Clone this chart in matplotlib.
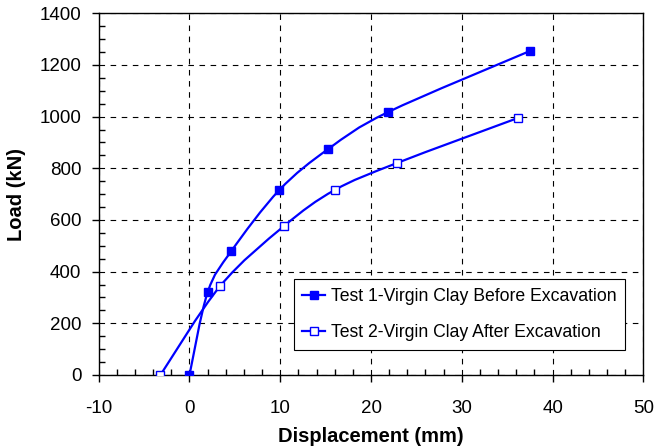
import matplotlib
matplotlib.use("Agg")
import matplotlib.pyplot as plt
from matplotlib.path import Path
from matplotlib.patches import PathPatch
from matplotlib.ticker import MultipleLocator
import numpy as np

plt.rcParams['font.family'] = ['Liberation Sans', 'DejaVu Sans']
plt.rcParams['axes.unicode_minus'] = False  # plain hyphen on -10

# data
test1_disp = [0.0, 2.0, 4.6, 9.9, 15.3, 21.9, 37.5]
test1_load = [0, 320, 479, 716, 875, 1018, 1254]
test2_disp = [-3.2, 3.4, 10.4, 16.0, 22.9, 36.2]
test2_load = [0, 345, 576, 716, 821, 995]
labels = ["Test 1-Virgin Clay Before Excavation", "Test 2-Virgin Clay After Excavation"]

blue = "#0000ff"


def smooth_path(xs, ys):
    """Excel-style smoothed line as cubic bezier segments through the points"""
    pts = np.column_stack([xs, ys]).astype(float)
    n = len(pts)
    verts = [pts[0]]
    codes = [Path.MOVETO]
    for i in range(n - 1):
        p0 = pts[i - 1] if i > 0 else pts[i]
        p1 = pts[i]
        p2 = pts[i + 1]
        p3 = pts[i + 2] if i + 2 < n else pts[i + 1]
        c1 = p1 + (p2 - p0) / 6.0
        c2 = p2 - (p3 - p1) / 6.0
        verts += [c1, c2, p2]
        codes += [Path.CURVE4] * 3
    return Path(verts, codes)


fig = plt.figure(figsize=(6.56, 4.48), dpi=100)
ax = fig.add_axes([0.1505, 0.163, 0.8302, 0.8073])

for xs, ys in [(test1_disp, test1_load), (test2_disp, test2_load)]:
    ax.add_patch(PathPatch(smooth_path(xs, ys), facecolor="none", edgecolor=blue, lw=1.6, zorder=3))

ax.plot(test1_disp, test1_load, ls="none", marker="s", ms=6, color=blue, zorder=4)
ax.plot(test2_disp, test2_load, ls="none", marker="s", ms=5.5, mfc="white", mec=blue, mew=1.0, zorder=4)

# legend handles with line + marker
h1, = ax.plot([], [], color=blue, lw=1.6, marker="s", ms=6)
h2, = ax.plot([], [], color=blue, lw=1.6, marker="s", ms=5.5, mfc="white", mec=blue, mew=1.0)
leg = ax.legend([h1, h2], labels, loc="lower right", bbox_to_anchor=(0.9664, 0.069),
                fontsize=12.7, frameon=True, fancybox=False, framealpha=1, edgecolor="black",
                handlelength=1.3, handletextpad=0.3, labelspacing=1.1, borderpad=0.5, borderaxespad=0)
leg.get_frame().set_linewidth(0.8)
leg.set_zorder(5)

ax.set_xlim(-10, 50)
ax.set_ylim(0, 1400)
ax.xaxis.set_major_locator(MultipleLocator(10))
ax.xaxis.set_minor_locator(MultipleLocator(2))
ax.yaxis.set_major_locator(MultipleLocator(200))
ax.yaxis.set_minor_locator(MultipleLocator(50))
ax.tick_params(which="major", direction="out", length=5, width=1, labelsize=13.5, color="black")
ax.tick_params(which="minor", direction="in", length=4, width=1)
ax.tick_params(axis="x", which="major", pad=13)
ax.tick_params(axis="y", which="major", pad=7.5)
ax.grid(True, which="major", color="black", ls=(0, (5, 5)), lw=0.8)

for sp in ax.spines.values():
    sp.set_linewidth(1.0)

ax.set_xlabel("Displacement (mm)", fontsize=14.5, fontweight="bold", labelpad=7)
ax.set_ylabel("Load (kN)", fontsize=14.5, fontweight="bold", labelpad=10)

fig.savefig("out.png", dpi=100)
